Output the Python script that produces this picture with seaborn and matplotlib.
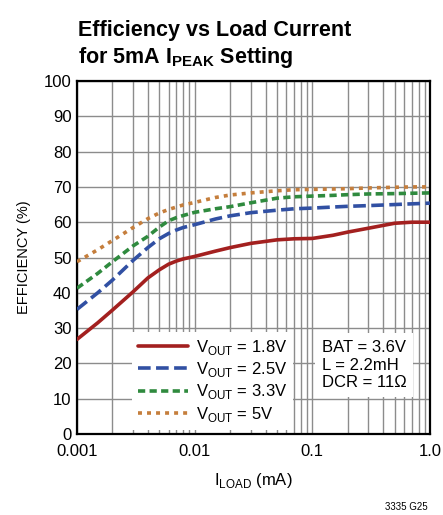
import matplotlib
matplotlib.use("Agg")
import matplotlib.pyplot as plt
from matplotlib.ticker import LogLocator, FixedLocator, FixedFormatter, NullFormatter
import seaborn as sns
import pandas as pd

# load current (mA) and efficiency (%) for each output voltage
i_load = [0.001, 0.0015, 0.002, 0.003, 0.004, 0.005, 0.006, 0.007, 0.008, 0.01,
          0.015, 0.02, 0.03, 0.05, 0.07, 0.1, 0.15, 0.2, 0.3, 0.5, 0.7, 1.0]
eff_1v8 = [26.8, 31.5, 35.1, 40.3, 44.2, 46.5, 48.1, 49.0, 49.6, 50.3,
           51.8, 52.8, 54.0, 55.0, 55.3, 55.4, 56.3, 57.2, 58.3, 59.7, 60.0, 60.0]
eff_2v5 = [35.3, 40.0, 43.6, 49.2, 52.8, 55.3, 56.8, 57.8, 58.5, 59.3,
           60.9, 61.8, 62.7, 63.4, 63.8, 64.0, 64.3, 64.5, 64.7, 65.0, 65.2, 65.4]
eff_3v3 = [41.3, 45.5, 48.8, 53.3, 56.0, 58.6, 60.4, 61.3, 61.9, 62.8,
           63.8, 64.4, 65.5, 66.8, 67.2, 67.4, 67.6, 67.8, 68.0, 68.1, 68.2, 68.3]
eff_5v0 = [48.8, 52.2, 54.8, 58.5, 61.0, 62.6, 63.6, 64.3, 64.9, 65.6,
           67.0, 67.7, 68.3, 68.9, 69.2, 69.3, 69.4, 69.5, 69.7, 69.9, 70.0, 70.0]

series_labels = [r"V$_{\mathrm{OUT}}$ = 1.8V", r"V$_{\mathrm{OUT}}$ = 2.5V",
                 r"V$_{\mathrm{OUT}}$ = 3.3V", r"V$_{\mathrm{OUT}}$ = 5V"]
x_ticks = [0.001, 0.01, 0.1, 1.0]
x_tick_labels = ["0.001", "0.01", "0.1", "1.0"]
y_ticks = list(range(0, 101, 10))

sns.set_style("white")
plt.rcParams["font.family"] = ["Liberation Sans", "DejaVu Sans"]
plt.rcParams["mathtext.fontset"] = "custom"
plt.rcParams["mathtext.rm"] = "Liberation Sans"
plt.rcParams["mathtext.bf"] = "Liberation Sans:bold"
for key in ["text.color", "axes.labelcolor", "xtick.color", "ytick.color"]:
    plt.rcParams[key] = "black"

colors = ["#a3201f", "#3150a3", "#2f8a3e", "#c57e3c"]
styles = ["-", (0, (3.5, 1.5)), (0, (2.0, 1.2)), (0, (1.1, 1.4))]

fig = plt.figure(figsize=(4.43, 5.15), dpi=100)
ax = fig.add_axes([77 / 443, 81 / 515, 353 / 443, 353 / 515])

for y, lab, c, ls in zip([eff_1v8, eff_2v5, eff_3v3, eff_5v0], series_labels, colors, styles):
    df = pd.DataFrame({"x": i_load, "y": y})
    sns.lineplot(data=df, x="x", y="y", ax=ax, color=c, linestyle=ls,
                 linewidth=2.6, label=lab, zorder=3)

ax.set_xscale("log")
ax.set_xlim(0.001, 1.0)
ax.set_ylim(0, 100)
ax.xaxis.set_major_locator(FixedLocator(x_ticks))
ax.xaxis.set_major_formatter(FixedFormatter(x_tick_labels))
ax.xaxis.set_minor_locator(LogLocator(base=10, subs=range(2, 10)))
ax.xaxis.set_minor_formatter(NullFormatter())
ax.set_yticks(y_ticks)

ax.grid(which="both", axis="x", color="#8c8c8c", linewidth=1.0, zorder=0)
ax.grid(which="major", axis="y", color="#8c8c8c", linewidth=1.0, zorder=0)
ax.tick_params(which="both", length=0, labelsize=12)
ax.tick_params(axis="x", pad=7)
ax.tick_params(axis="y", pad=4)
for sp in ax.spines.values():
    sp.set_linewidth(1.6)
    sp.set_color("black")

ax.set_xlabel(r"I$_{\mathrm{LOAD}}$ (mA)", fontsize=12, labelpad=9)
ax.set_ylabel("EFFICIENCY (%)", fontsize=10.5, labelpad=9)

leg = ax.legend(loc="upper left", bbox_to_anchor=(0.156, 0.289), frameon=True,
                fontsize=12, handlelength=3.0, handletextpad=0.5,
                labelspacing=0.2, borderpad=0.35, borderaxespad=0, fancybox=False)
leg.get_frame().set_facecolor("white")
leg.get_frame().set_edgecolor("none")
leg.get_frame().set_alpha(1)
leg.set_zorder(5)

ax.text(0.694, 0.266, "BAT = 3.6V\nL = 2.2mH\nDCR = 11\u03a9", transform=ax.transAxes,
        ha="left", va="top", fontsize=12, linespacing=1.22, zorder=6,
        bbox=dict(facecolor="white", edgecolor="none", boxstyle="square,pad=0.4"))

fig.text(78 / 443, 1 - 36 / 515, "Efficiency vs Load Current", fontsize=15.5,
         fontweight="bold", ha="left", va="baseline")
fig.text(78 / 443, 1 - 63 / 515, r"for 5mA I$_{\mathbf{PEAK}}$ Setting", fontsize=15.5,
         fontweight="bold", ha="left", va="baseline")
fig.text(428 / 443, 1 - 510 / 515, "3335 G25", fontsize=7, ha="right", va="baseline")

fig.savefig("out.png", dpi=100)
